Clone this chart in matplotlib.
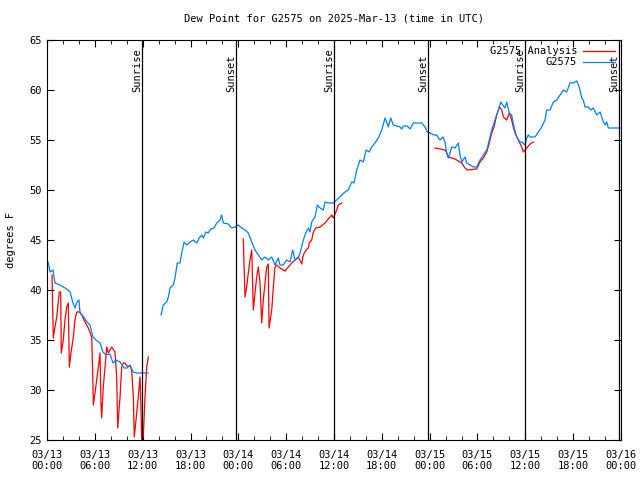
import matplotlib
matplotlib.use("Agg")
import matplotlib.pyplot as plt
import numpy as np

# hours since 2025-03-13 00:00 UTC, dew point in F
obs1_h = [0.13, 0.38, 0.75, 1.0, 1.63, 2.26, 2.63, 2.89, 3.26, 3.51, 3.76, 4.01, 4.14, 4.52,
          5.02, 5.39, 5.77, 6.15, 6.65, 7.02, 7.4, 7.9, 8.28, 8.66, 9.16, 9.66, 10.04, 10.41,
          10.79, 11.29, 11.67, 12.67]
obs1_t = [42.8, 41.8, 42.0, 40.7, 40.5, 40.2, 40.0, 39.8, 38.7, 38.2, 38.8, 39.0, 37.7, 37.4,
          36.8, 36.5, 35.3, 35.0, 34.7, 33.8, 33.5, 33.6, 32.7, 33.0, 32.8, 32.2, 32.2, 32.5,
          31.8, 31.7, 31.7, 31.7]

obs2_h = [14.30, 14.59, 15.02, 15.22, 15.43, 15.84, 16.06, 16.34, 16.68, 16.90, 17.19, 17.52,
          17.94, 18.35, 18.78, 19.10, 19.41, 19.61, 19.94, 20.23, 20.53, 20.95, 21.29, 21.70,
          21.91, 22.12, 22.74, 23.17, 23.58, 24.0, 24.42, 24.84, 25.25, 25.68, 26.09, 26.51,
          26.93, 27.35, 27.76, 28.19, 28.60, 29.01, 29.23, 29.64, 30.07, 30.48, 30.82, 31.11,
          31.52, 31.74, 32.15, 32.45, 32.78, 32.99, 33.20, 33.62, 33.91, 34.25, 34.66, 34.87,
          35.29, 35.91, 36.34, 36.97, 37.38, 37.80, 38.22, 38.51, 38.85, 39.26, 39.68, 40.02,
          40.43, 40.73, 41.14, 41.56, 41.99, 42.40, 42.61, 42.81, 43.11, 43.44, 43.87, 44.28,
          44.49, 44.69, 45.20, 45.53, 45.95, 47.00, 47.42, 47.70, 48.04, 48.54, 48.88, 49.09,
          49.30, 49.67, 49.92, 50.14, 50.34, 50.55, 50.77, 51.18, 51.59, 51.81, 52.02, 52.43,
          52.65, 53.06, 53.48, 53.90, 54.31, 54.73, 55.16, 55.48, 55.78, 56.20, 56.61, 56.91,
          57.16, 57.45, 57.66, 57.99, 58.29, 58.58, 58.92, 59.33, 59.58, 59.96, 60.17, 60.38,
          60.59, 61.21, 61.63, 62.05, 62.47, 62.68, 63.10, 63.51, 63.94, 64.35, 64.77, 65.19,
          65.61, 66.02, 66.45, 66.77, 67.07, 67.27, 67.49, 67.90, 68.20, 68.53, 68.95, 69.37,
          69.71, 70.00, 70.21, 70.41, 71.88]
obs2_t = [37.5, 38.5, 38.8, 39.3, 40.2, 40.5, 41.2, 42.7, 42.7, 43.7, 44.8, 44.5,
          44.8, 45.0, 44.7, 45.2, 45.5, 45.2, 45.8, 45.7, 46.1, 46.2, 46.7, 47.0,
          47.5, 46.7, 46.6, 46.2, 46.3, 46.5, 46.2, 46.0, 45.7, 44.8, 44.0, 43.5,
          43.0, 43.3, 43.0, 43.3, 42.5, 43.2, 42.5, 42.5, 43.0, 42.8, 44.0, 43.0,
          43.2, 43.7, 45.0, 45.7, 46.2, 45.8, 46.8, 47.3, 48.5, 48.2, 48.0, 48.8,
          48.7, 48.7, 49.0, 49.5, 49.8, 50.0, 50.8, 50.7, 52.0, 53.0, 52.8, 54.0,
          53.8, 54.3, 54.7, 55.2, 56.0, 57.2, 56.8, 56.3, 57.2, 56.5, 56.4, 56.3,
          56.1, 56.4, 56.4, 56.1, 56.7, 56.7, 56.3, 55.8, 55.7, 55.5, 55.5, 55.2,
          55.0, 55.3, 54.8, 53.7, 53.2, 53.7, 54.3, 54.2, 54.7, 53.5, 52.8, 53.3,
          52.7, 52.5, 52.3, 52.3, 53.0, 53.5, 54.0, 55.0, 56.0, 57.0, 58.0, 58.8,
          58.5, 58.2, 58.8, 57.7, 57.5, 56.3, 55.3, 54.8, 54.8, 54.5, 55.2, 55.5,
          55.3, 55.3, 55.8, 56.3, 57.0, 58.0, 58.0, 58.8, 59.0, 59.5, 60.0, 59.8,
          60.7, 60.7, 60.9, 60.3, 59.2, 59.0, 58.3, 58.3, 58.0, 58.2, 57.5, 57.8,
          57.0, 56.5, 56.8, 56.2, 56.2]

ana1_h = [0.63, 0.71, 0.79, 1.0, 1.22, 1.42, 1.54, 1.72, 1.79, 2.04, 2.26, 2.47, 2.67, 2.80,
          3.01, 3.30, 3.51, 3.73, 4.14, 4.35, 4.77, 5.18, 5.61, 5.73, 5.81, 6.02, 6.23, 6.44,
          6.65, 6.77, 6.86, 7.06, 7.28, 7.49, 7.69, 8.12, 8.53, 8.74, 8.87, 9.16, 9.37, 9.57,
          9.78, 10.0, 10.41, 10.62, 10.83, 10.95, 11.25, 11.45, 11.67, 11.79, 11.88, 12.08,
          12.29, 12.51, 12.71]
ana1_t = [41.5, 38.3, 35.2, 36.3, 37.3, 38.8, 39.8, 39.8, 33.7, 35.0, 37.0, 38.3, 38.7, 32.3,
          33.7, 35.3, 37.0, 37.8, 37.8, 37.5, 36.8, 36.2, 35.3, 31.7, 28.5, 29.7, 31.0, 32.3,
          33.7, 28.7, 27.2, 30.3, 32.3, 34.3, 33.7, 34.3, 33.8, 31.3, 26.2, 29.3, 32.3, 32.7,
          32.7, 32.4, 32.4, 32.0, 29.3, 25.3, 27.7, 29.3, 31.3, 28.0, 25.0, 25.3,
          29.3, 32.3, 33.3]

ana2_h = [24.62, 24.84, 25.05, 25.25, 25.46, 25.68, 25.88, 26.09, 26.30, 26.51, 26.72, 26.93,
          27.13, 27.35, 27.56, 27.76, 27.85, 28.19, 28.39, 28.60, 28.81, 29.23, 29.85, 30.27,
          30.70, 31.11, 31.52, 31.95, 32.15, 32.49, 32.78, 32.90, 33.20, 33.41, 33.71, 34.25,
          34.87, 35.71, 35.91, 36.34, 36.54, 36.97]
ana2_t = [45.1, 39.3, 40.3, 41.7, 43.0, 44.0, 38.0, 39.7, 41.3, 42.3, 40.7, 36.7,
          39.0, 40.7, 42.3, 42.6, 36.2, 38.0, 40.3, 42.3, 42.5, 42.2, 41.9, 42.3,
          42.7, 43.0, 43.3, 42.6, 43.5, 44.0, 44.2, 44.7, 45.0, 45.8, 46.2, 46.3,
          46.7, 47.5, 47.2, 48.0, 48.5, 48.7]

ana3_h = [48.67, 49.30, 49.92, 50.14, 50.34, 50.77, 51.18, 51.59, 52.02, 52.43, 52.72, 53.90,
          54.31, 54.73, 55.16, 55.48, 55.78, 56.07, 56.41, 56.74, 57.04, 57.24, 57.66, 57.99,
          58.29, 58.49, 58.71, 59.12, 59.55, 59.75, 60.17, 60.59, 61.01]
ana3_t = [54.2, 54.1, 54.0, 53.7, 53.3, 53.2, 53.1, 52.9, 52.7, 52.2, 52.0, 52.1,
          52.8, 53.2, 53.8, 54.7, 55.7, 56.3, 57.5, 58.3, 58.0, 57.3, 57.0, 57.7,
          57.0, 56.3, 55.7, 55.0, 54.3, 53.8, 54.2, 54.6, 54.8]

event_h = [11.92, 23.71, 36.0, 47.8, 59.96, 71.75]
event_names = ["Sunrise", "Sunset", "Sunrise", "Sunset", "Sunrise", "Sunset"]

tick_labels = ["03/13\n00:00", "03/13\n06:00", "03/13\n12:00", "03/13\n18:00",
               "03/14\n00:00", "03/14\n06:00", "03/14\n12:00", "03/14\n18:00",
               "03/15\n00:00", "03/15\n06:00", "03/15\n12:00", "03/15\n18:00",
               "03/16\n00:00"]

plt.rcParams['font.family'] = 'DejaVu Sans Mono'
plt.rcParams['font.size'] = 7

fig = plt.figure(figsize=(6.4, 4.8), dpi=100)
ax = fig.add_axes([47 / 640, 1 - 440 / 480, 574 / 640, 400 / 480])

red = '#ff0000'
blue = '#0080ff'
ax.plot(ana1_h, ana1_t, color=red, lw=0.9, label='G2575 Analysis')
ax.plot(ana2_h, ana2_t, color=red, lw=0.9)
ax.plot(ana3_h, ana3_t, color=red, lw=0.9)
ax.plot(obs1_h, obs1_t, color=blue, lw=0.9, label='G2575')
ax.plot(obs2_h, obs2_t, color=blue, lw=0.9)

for h, name in zip(event_h, event_names):
    ax.axvline(h, color='black', lw=0.9)
    ax.text(h, 59.8, name, rotation=90, ha='right', va='bottom', fontsize=7.5)

ax.set_xlim(0, 72)
ax.set_ylim(25, 65)
ax.set_xticks(np.arange(0, 73, 6))
ax.set_xticklabels(tick_labels)
ax.set_xticks(np.arange(0, 73, 2), minor=True)
ax.set_yticks(np.arange(25, 66, 5))
ax.tick_params(which='both', direction='in', top=True, right=True, labelsize=7.5)
ax.tick_params(which='major', length=5)
ax.tick_params(which='minor', length=3)
ax.tick_params(axis='x', pad=7)

ax.set_title("Dew Point for G2575 on 2025-Mar-13 (time in UTC)", fontsize=7.5, pad=13)
ax.set_ylabel("degrees F", fontsize=7.5, labelpad=10)

ax.legend(loc='upper right', frameon=False, markerfirst=False, fontsize=7.5,
          handlelength=3.0, borderaxespad=0.2, labelspacing=0.1, handletextpad=0.6)

fig.savefig("out.png", dpi=100)
